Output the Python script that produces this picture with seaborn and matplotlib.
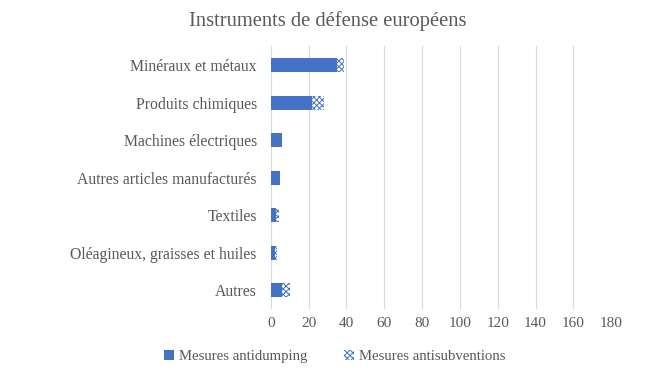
import numpy as np
import pandas as pd
import matplotlib
matplotlib.use("Agg")
import matplotlib.pyplot as plt
import seaborn as sns
from matplotlib.patches import Patch

categories = ["Minéraux et métaux", "Produits chimiques", "Machines électriques",
              "Autres articles manufacturés", "Textiles",
              "Oléagineux, graisses et huiles", "Autres"]
antidumping = [35, 22, 6, 5, 3, 2.5, 6]
antisubventions = [4, 6, 0, 0, 1.5, 1, 4]
xticks = list(range(0, 181, 20))

blue = "#4472C4"
grey = "#595959"

df = pd.DataFrame({"cat": categories,
                   "ad": antidumping,
                   "total": np.array(antidumping) + np.array(antisubventions)})

sns.set_style("white")
plt.rcParams["font.family"] = ["Liberation Serif", "DejaVu Serif"]
plt.rcParams["hatch.linewidth"] = 0.7

fig = plt.figure(figsize=(6.56, 3.77), dpi=100)
ax = fig.add_axes([0.4127, 0.180, 0.519, 0.697])

# hatched total first, solid antidumping on top
sns.barplot(data=df, x="total", y="cat", color="white", width=0.37,
            edgecolor=blue, linewidth=0, hatch="xxxxxx", ax=ax, orient="h")
sns.barplot(data=df, x="ad", y="cat", color=blue, width=0.37,
            linewidth=0, ax=ax, orient="h", saturation=1)

ax.set_xlim(0, 180)
ax.set_xticks(xticks)
ax.set_ylim(6.5, -0.5)
ax.set_xlabel("")
ax.set_ylabel("")
ax.grid(axis="x", color="#D9D9D9", linewidth=0.8)
ax.set_axisbelow(True)
for s in ax.spines.values():
    s.set_visible(False)
ax.tick_params(axis="both", length=0, colors=grey)
ax.tick_params(axis="y", pad=10, labelsize=11.3)
ax.tick_params(axis="x", pad=6, labelsize=11)

fig.text(0.5, 0.945, "Instruments de défense européens", ha="center", va="center",
         fontsize=14.8, color=grey)

handles = [Patch(facecolor=blue, edgecolor=blue, linewidth=0),
           Patch(facecolor="white", edgecolor=blue, hatch="xxxxxx", linewidth=0)]
fig.legend(handles, ["Mesures antidumping", "Mesures antisubventions"],
           loc="center", bbox_to_anchor=(0.51, 0.055), ncol=2, frameon=False,
           fontsize=10.6, labelcolor=grey, handlelength=0.7, handleheight=0.7,
           handletextpad=0.3, columnspacing=2.5)

fig.savefig("out.png", dpi=100, facecolor="white")
